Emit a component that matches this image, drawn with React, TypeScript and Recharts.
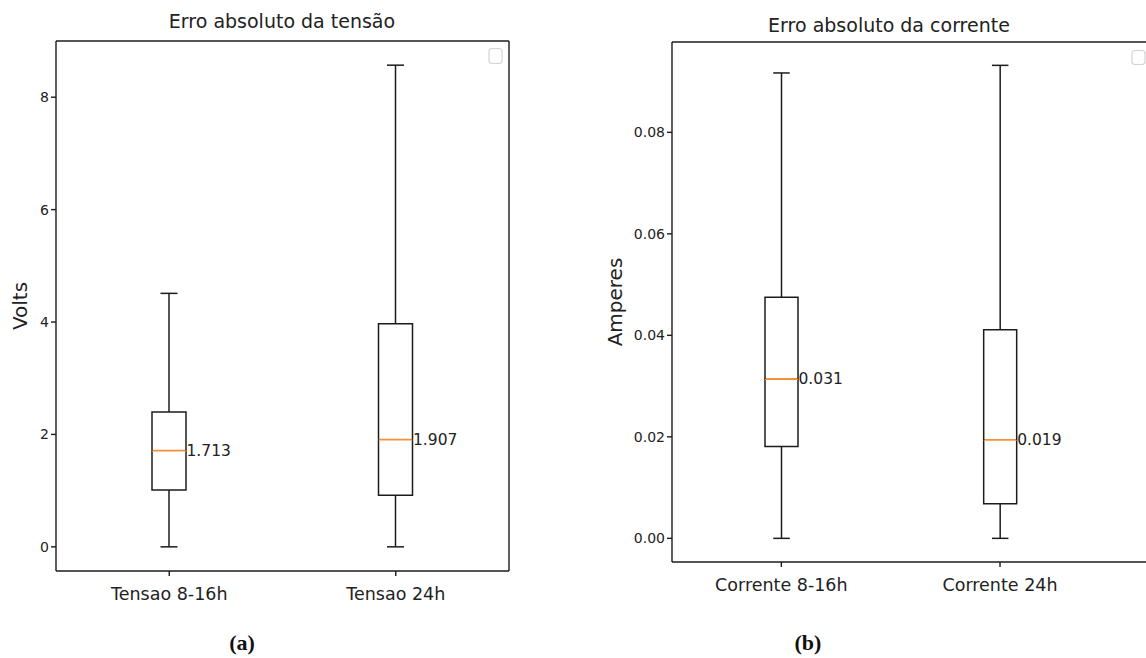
import { ComposedChart, Bar, XAxis, YAxis, ReferenceLine } from "recharts";

// box plot stats (min, q1, median, q3, max)
const tensaoLabels = ["Tensao 8-16h", "Tensao 24h"];
const tensaoMin = [0, 0];
const tensaoQ1 = [1.01, 0.92];
const tensaoMedian = [1.713, 1.907];
const tensaoQ3 = [2.4, 3.97];
const tensaoMax = [4.51, 8.57];
const tensaoTicks = [0, 2, 4, 6, 8];

const correnteLabels = ["Corrente 8-16h", "Corrente 24h"];
const correnteMin = [0, 0];
const correnteQ1 = [0.0181, 0.0068];
const correnteMedian = [0.0314, 0.0194];
const correnteQ3 = [0.0475, 0.0411];
const correnteMax = [0.0917, 0.0932];
const correnteTicks = [0, 0.02, 0.04, 0.06, 0.08];

const INK = "#1c1c1c";
const ORANGE = "#f5913a";
const FONT = "DejaVu Sans";

function buildRows(labels: string[], min: number[], q1: number[], med: number[], q3: number[], max: number[]) {
  return labels.map((name, i) => ({
    pos: i + 1,
    name,
    base: min[i],
    lowWhisker: q1[i] - min[i],
    lowBox: med[i] - q1[i],
    highBox: q3[i] - med[i],
    highWhisker: max[i] - q3[i],
    median: med[i],
  }));
}

const Nothing = () => <g />;

function LowWhisker(props: any) {
  const { x, y, width, height } = props;
  const cx = x + width / 2;
  const cap = width / 4;
  return (
    <g>
      <line x1={cx} x2={cx} y1={y} y2={y + height} stroke={INK} strokeWidth={1.5} />
      <line x1={cx - cap} x2={cx + cap} y1={y + height} y2={y + height} stroke={INK} strokeWidth={1.5} />
    </g>
  );
}

function HighWhisker(props: any) {
  const { x, y, width, height } = props;
  const cx = x + width / 2;
  const cap = width / 4;
  return (
    <g>
      <line x1={cx} x2={cx} y1={y} y2={y + height} stroke={INK} strokeWidth={1.5} />
      <line x1={cx - cap} x2={cx + cap} y1={y} y2={y} stroke={INK} strokeWidth={1.5} />
    </g>
  );
}

function LowBox(props: any) {
  const { x, y, width, height, payload } = props;
  return (
    <g>
      <path
        d={`M${x},${y} L${x},${y + height} L${x + width},${y + height} L${x + width},${y}`}
        fill="none"
        stroke={INK}
        strokeWidth={1.5}
      />
      <line x1={x} x2={x + width} y1={y} y2={y} stroke={ORANGE} strokeWidth={1.8} />
      <text
        x={x + width + 0.5}
        y={y}
        dominantBaseline="central"
        fontSize={15.5}
        fontFamily={FONT}
        fill="#222"
      >
        {payload.median.toFixed(3)}
      </text>
    </g>
  );
}

function HighBox(props: any) {
  const { x, y, width, height } = props;
  return (
    <path
      d={`M${x},${y + height} L${x},${y} L${x + width},${y} L${x + width},${y + height}`}
      fill="none"
      stroke={INK}
      strokeWidth={1.5}
    />
  );
}

type BoxChartProps = {
  rows: any[];
  labels: string[];
  ticks: number[];
  yDomain: [number, number];
  xDomain: [number, number];
  width: number;
  height: number;
  margin: { top: number; right: number; bottom: number; left: number };
  yWidth: number;
  yLabel: string;
  yLabelX: number;
  tickFmt: (v: number) => string;
  barSize: number;
};

function BoxChart(p: BoxChartProps) {
  const tickStyle = { fontSize: 14, fill: "#222", fontFamily: FONT };
  const spine = { stroke: INK, strokeWidth: 1.4 };
  return (
    <ComposedChart width={p.width} height={p.height} data={p.rows} margin={p.margin}>
      <XAxis
        xAxisId="x"
        dataKey="pos"
        type="number"
        domain={p.xDomain}
        allowDataOverflow
        ticks={[1, 2]}
        interval={0}
        tickFormatter={(v: number) => p.labels[v - 1]}
        height={40}
        axisLine={spine}
        tickLine={spine}
        tickSize={5}
        tickMargin={12}
        tick={{ fontSize: 17.5, fill: "#222", fontFamily: FONT }}
      />
      <YAxis
        yAxisId="y"
        type="number"
        domain={p.yDomain}
        allowDataOverflow
        ticks={p.ticks}
        interval={0}
        tickFormatter={p.tickFmt}
        width={p.yWidth}
        axisLine={spine}
        tickLine={spine}
        tickSize={5}
        tickMargin={2}
        tick={tickStyle}
        label={(lp: any) => {
          const vb = lp.viewBox || { y: 0, height: 0 };
          const cy = vb.y + vb.height / 2;
          return (
            <text
              x={p.yLabelX}
              y={cy}
              transform={`rotate(-90, ${p.yLabelX}, ${cy})`}
              textAnchor="middle"
              dominantBaseline="central"
              fontSize={20}
              fontFamily={FONT}
              fill="#222"
            >
              {p.yLabel}
            </text>
          );
        }}
      />
      {/* top and right spines of the frame */}
      <ReferenceLine xAxisId="x" yAxisId="y" y={p.yDomain[1]} stroke={INK} strokeWidth={1.4} ifOverflow="visible" />
      <ReferenceLine xAxisId="x" yAxisId="y" x={p.xDomain[1]} stroke={INK} strokeWidth={1.4} ifOverflow="visible" />
      <Bar xAxisId="x" yAxisId="y" dataKey="base" stackId="box" barSize={p.barSize} shape={<Nothing />} isAnimationActive={false} />
      <Bar xAxisId="x" yAxisId="y" dataKey="lowWhisker" stackId="box" barSize={p.barSize} shape={<LowWhisker />} isAnimationActive={false} />
      <Bar xAxisId="x" yAxisId="y" dataKey="lowBox" stackId="box" barSize={p.barSize} shape={<LowBox />} isAnimationActive={false} />
      <Bar xAxisId="x" yAxisId="y" dataKey="highBox" stackId="box" barSize={p.barSize} shape={<HighBox />} isAnimationActive={false} />
      <Bar xAxisId="x" yAxisId="y" dataKey="highWhisker" stackId="box" barSize={p.barSize} shape={<HighWhisker />} isAnimationActive={false} />
    </ComposedChart>
  );
}

export default function App() {
  const tensaoRows = buildRows(tensaoLabels, tensaoMin, tensaoQ1, tensaoMedian, tensaoQ3, tensaoMax);
  const correnteRows = buildRows(correnteLabels, correnteMin, correnteQ1, correnteMedian, correnteQ3, correnteMax);

  return (
    <div style={{ position: "absolute", left: 0, top: 0, width: 1146, height: 658, overflow: "hidden", background: "#fff" }}>
      <div style={{ position: "absolute", left: 0, top: 0 }}>
        <BoxChart
          rows={tensaoRows}
          labels={tensaoLabels}
          ticks={tensaoTicks}
          yDomain={[-0.43, 9.0]}
          xDomain={[0.5, 2.5]}
          width={560}
          height={620}
          margin={{ top: 41, right: 51, bottom: 9, left: 0 }}
          yWidth={56}
          yLabel="Volts"
          yLabelX={20}
          tickFmt={(v) => String(v)}
          barSize={34}
        />
      </div>
      <div style={{ position: "absolute", left: 580, top: 0 }}>
        <BoxChart
          rows={correnteRows}
          labels={correnteLabels}
          ticks={correnteTicks}
          yDomain={[-0.00466, 0.0978]}
          xDomain={[0.5, 2.695]}
          width={600}
          height={620}
          margin={{ top: 42, right: 28, bottom: 18, left: 0 }}
          yWidth={92}
          yLabel="Amperes"
          yLabelX={35}
          tickFmt={(v) => v.toFixed(2)}
          barSize={33}
        />
      </div>
      <svg width={1146} height={658} style={{ position: "absolute", left: 0, top: 0, pointerEvents: "none" }}>
        <text x={282} y={28} textAnchor="middle" fontSize={19} fontFamily={FONT} fill="#222">
          Erro absoluto da tensão
        </text>
        <text x={889} y={32} textAnchor="middle" fontSize={19} fontFamily={FONT} fill="#222">
          Erro absoluto da corrente
        </text>
        <rect x={489} y={48.5} width={13} height={15} rx={3} fill="#fff" stroke="#d4d4d4" strokeWidth={1.2} />
        <rect x={1132} y={50.5} width={13} height={14} rx={3} fill="#fff" stroke="#d4d4d4" strokeWidth={1.2} />
        <text x={242} y={650} textAnchor="middle" fontSize={22} fontWeight="bold" fontFamily="Liberation Serif" fill="#111">
          (a)
        </text>
        <text x={808} y={650} textAnchor="middle" fontSize={22} fontWeight="bold" fontFamily="Liberation Serif" fill="#111">
          (b)
        </text>
      </svg>
    </div>
  );
}
